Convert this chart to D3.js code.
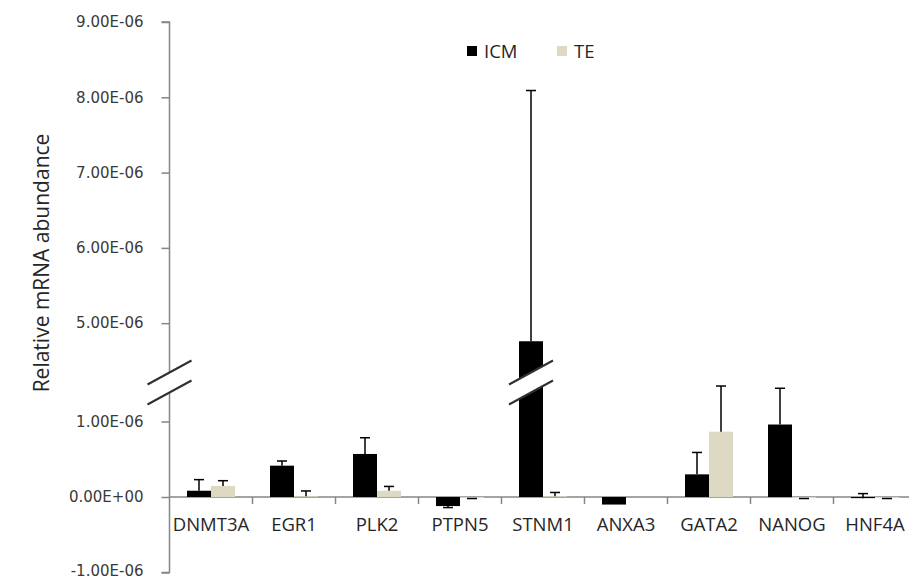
<!DOCTYPE html>
<html>
<head>
<meta charset="utf-8">
<script src="https://cdn.jsdelivr.net/npm/d3@7"></script>
<style>
  body { margin: 0; background: #fff; }
  svg { display: block; }
</style>
</head>
<body>
<svg id="chart" width="909" height="579"></svg>
<script>
/* broken-axis bar chart: ICM vs TE relative mRNA abundance */

const genes = ['DNMT3A', 'EGR1', 'PLK2', 'PTPN5', 'STNM1', 'ANXA3', 'GATA2', 'NANOG', 'HNF4A'];
const series = ['ICM', 'TE'];

// bar heights
const icmValues = [0.083e-6, 0.415e-6, 0.57e-6, -0.12e-6, 4.76e-6, -0.10e-6, 0.30e-6, 0.96e-6, -0.015e-6];
const teValues = [0.146e-6, 0.01e-6, 0.083e-6, -0.015e-6, 0.01e-6, 0, 0.865e-6, -0.015e-6, -0.015e-6];
// signed error bar lengths (the bar tip is value + error)
const icmErrors = [0.147e-6, 0.062e-6, 0.215e-6, -0.02e-6, 3.33e-6, 0, 0.29e-6, 0.48e-6, 0.06e-6];
const teErrors = [0.07e-6, 0.07e-6, 0.057e-6, -0.005e-6, 0.05e-6, 0, 0.605e-6, -0.005e-6, -0.005e-6];

const yTicks = [-1e-6, 0, 1e-6, 5e-6, 6e-6, 7e-6, 8e-6, 9e-6];

const colors = {
  ICM: '#000000',
  TE: '#ddd9c3',
  axis: '#868686',
  breakLine: '#303030',
  text: '#262626',
};

const AXIS_X = 169.5;
const CAT_WIDTH = 83;
const BAR_WIDTH = 24;
const CAP = 10;
const SANS = '"Open Sans", "Segoe UI", sans-serif';

const svg = d3.select('#chart');

// piecewise y scale: the band between 1.6E-06 and 4.6E-06 is squeezed into the break
const y = d3.scaleLinear()
  .domain([-1e-6, 1.6e-6, 4.6e-6, 9e-6])
  .range([572.5, 376.2, 353.3, 22]);

const x = d3.scaleBand()
  .domain(genes)
  .range([AXIS_X, AXIS_X + CAT_WIDTH * genes.length])
  .padding(0);

function sci(v) {
  if (v === 0) return '0.00E+00';
  const [m, e] = v.toExponential(2).split('e');
  const n = +e;
  return m + 'E' + (n < 0 ? '-' : '+') + String(Math.abs(n)).padStart(2, '0');
}

// y axis
const yAxis = d3.axisLeft(y)
  .tickValues(yTicks)
  .tickFormat(sci)
  .tickSize(8)
  .tickPadding(18);

const yAxisG = svg.append('g')
  .attr('transform', `translate(${AXIS_X},0)`)
  .call(yAxis)
  .attr('font-family', '"DejaVu Sans", Verdana, sans-serif')
  .attr('font-size', 15);
yAxisG.select('.domain').attr('stroke', colors.axis).attr('stroke-width', 1.5)
  .attr('d', `M-8,${y(9e-6)}H0V${y(-1e-6)}H-8`);
yAxisG.selectAll('.tick line').attr('stroke', colors.axis).attr('stroke-width', 1.5);
yAxisG.selectAll('.tick text').attr('fill', '#3a3a3a');
// keep the lowest label inside the picture
yAxisG.selectAll('.tick text').filter((d) => d < 0).attr('dy', '0.18em');

// x axis along zero
const zeroY = y(0);
svg.append('line')
  .attr('x1', AXIS_X).attr('x2', 909)
  .attr('y1', zeroY).attr('y2', zeroY)
  .attr('stroke', colors.axis).attr('stroke-width', 1.5);

svg.append('g').selectAll('line')
  .data(genes)
  .join('line')
  .attr('x1', (d) => x(d) + CAT_WIDTH)
  .attr('x2', (d) => x(d) + CAT_WIDTH)
  .attr('y1', zeroY)
  .attr('y2', zeroY + 7)
  .attr('stroke', colors.axis).attr('stroke-width', 1.5);

svg.append('g').selectAll('text')
  .data(genes)
  .join('text')
  .attr('x', (d) => x(d) + CAT_WIDTH / 2)
  .attr('y', 531)
  .attr('text-anchor', 'middle')
  .attr('font-family', SANS)
  .attr('font-size', 18.5)
  .attr('fill', colors.text)
  .text((d) => d);

// bars
const rows = genes.map((g, i) => ({
  gene: g,
  bars: [
    { key: 'ICM', value: icmValues[i], err: icmErrors[i], dx: -BAR_WIDTH },
    { key: 'TE', value: teValues[i], err: teErrors[i], dx: 0 },
  ],
}));

const groups = svg.append('g').selectAll('g')
  .data(rows)
  .join('g')
  .attr('transform', (d) => `translate(${x(d.gene) + CAT_WIDTH / 2},0)`);

const bar = groups.selectAll('g.bar')
  .data((d) => d.bars)
  .join('g')
  .attr('class', 'bar');

bar.append('rect')
  .attr('x', (d) => d.dx)
  .attr('y', (d) => y(Math.max(0, d.value)))
  .attr('width', BAR_WIDTH)
  .attr('height', (d) => Math.abs(y(d.value) - y(0)))
  .attr('fill', (d) => colors[d.key]);

// error bars
const errBars = bar.filter((d) => d.err !== 0);
errBars.append('line')
  .attr('x1', (d) => d.dx + BAR_WIDTH / 2)
  .attr('x2', (d) => d.dx + BAR_WIDTH / 2)
  .attr('y1', (d) => y(d.value))
  .attr('y2', (d) => y(d.value + d.err))
  .attr('stroke', '#000').attr('stroke-width', 1.5);
errBars.append('line')
  .attr('x1', (d) => d.dx + BAR_WIDTH / 2 - CAP / 2)
  .attr('x2', (d) => d.dx + BAR_WIDTH / 2 + CAP / 2)
  .attr('y1', (d) => y(d.value + d.err))
  .attr('y2', (d) => y(d.value + d.err))
  .attr('stroke', '#000').attr('stroke-width', 1.5);

// break marks on the axis and across the tall STNM1 bar
function drawBreak(cx) {
  const half = 22, rise = 12, y1 = 372.5, y2 = 392.5;
  const g = svg.append('g');
  g.append('polygon')
    .attr('points', [
      [cx - half, y1 + rise], [cx + half, y1 - rise],
      [cx + half, y2 - rise], [cx - half, y2 + rise],
    ].map((p) => p.join(',')).join(' '))
    .attr('fill', '#fff');
  [y1, y2].forEach((yy) => {
    g.append('line')
      .attr('x1', cx - half).attr('y1', yy + rise)
      .attr('x2', cx + half).attr('y2', yy - rise)
      .attr('stroke', colors.breakLine).attr('stroke-width', 2);
  });
}
drawBreak(AXIS_X);
drawBreak(x('STNM1') + CAT_WIDTH / 2 - BAR_WIDTH / 2);

// axis title
svg.append('text')
  .attr('transform', 'translate(49,263) rotate(-90)')
  .attr('text-anchor', 'middle')
  .attr('font-family', SANS)
  .attr('font-size', 21)
  .attr('fill', colors.text)
  .text('Relative mRNA abundance');

// legend
const legend = svg.append('g').attr('transform', 'translate(467,46)');
const item = legend.selectAll('g')
  .data(series)
  .join('g')
  .attr('transform', (d, i) => `translate(${i * 90},0)`);
item.append('rect')
  .attr('width', 10).attr('height', 10)
  .attr('fill', (d) => colors[d]);
item.append('text')
  .attr('x', 17)
  .attr('y', 11.5)
  .attr('font-family', SANS)
  .attr('font-size', 18.5)
  .attr('fill', colors.text)
  .text((d) => d);
</script>
</body>
</html>
